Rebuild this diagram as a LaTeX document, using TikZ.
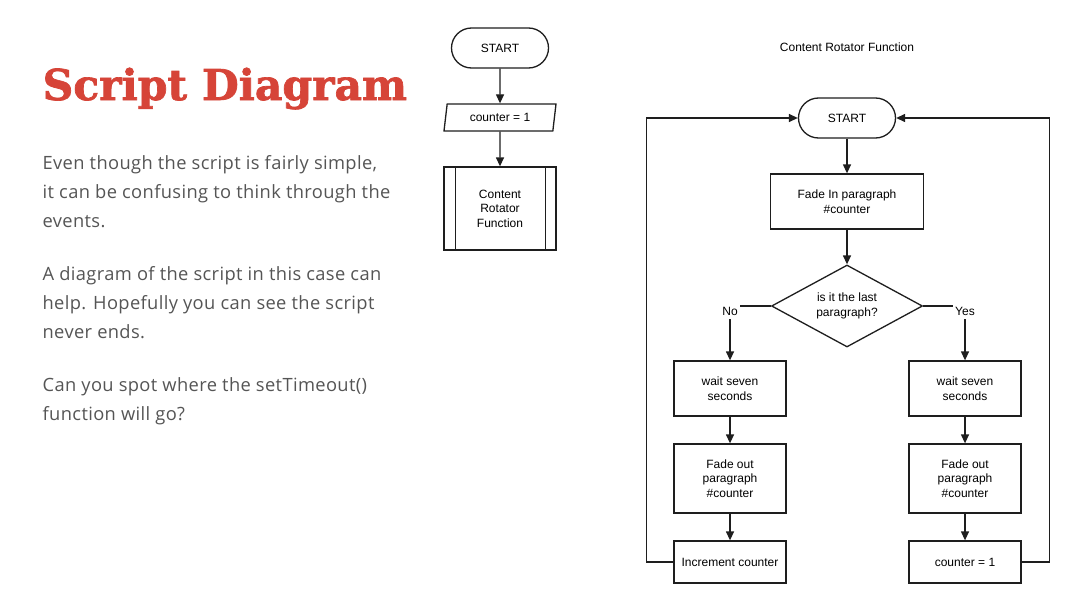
\documentclass[tikz,border=0pt]{standalone}
\usepackage{fontspec}
\setmainfont{Liberation Sans}
\newfontfamily\titlefont{DejaVu Serif}[BoldFeatures={FakeBold=1.6}]
\newfontfamily\bodyfont{Open Sans}[LetterSpace=2]
\usepackage{tikz}
\usetikzlibrary{arrows.meta,shapes.geometric,positioning}
\definecolor{titlered}{RGB}{214,68,56}
\definecolor{bodygray}{RGB}{85,85,85}
\definecolor{flowink}{RGB}{30,30,30}

\begin{document}
\begin{tikzpicture}[x=1pt,y=-1pt,>={Triangle[length=9pt,width=8pt]},
                    line width=1.3pt,draw=flowink,
                    font=\fontsize{12}{14.5}\selectfont]
  \tikzstyle{term}=[draw,rounded corners=20pt,minimum width=97pt,minimum height=40pt]
  \tikzstyle{io}=[draw,trapezium,trapezium left angle=73,trapezium right angle=107,
                  trapezium stretches body,minimum width=112pt,minimum height=27pt,inner sep=1pt]
  \tikzstyle{proc}=[draw,rectangle,align=center,minimum width=112pt,inner sep=2pt]
  \tikzstyle{decide}=[draw,diamond,aspect=1.84,minimum width=151pt,minimum height=82pt,
                      inner sep=0pt,align=center]
  \tikzstyle{branch}=[fill=white,inner xsep=2pt,inner ysep=4pt,yshift=-5pt]
  \tikzstyle{para}=[anchor=base west,align=left,text=bodygray,inner sep=0pt,
                    font=\bodyfont\fontsize{18.3}{29}\selectfont]

  \useasboundingbox[fill=white] (0,0) rectangle (1075,610);

  % left column: text (base = baseline of last line)
  \node[anchor=base west,inner sep=0pt,text=titlered,font=\titlefont\bfseries\fontsize{42.5}{50}\selectfont]
    (title) at (42,100) {Script Diagram};
  \node[para] (p1) at (42,227) {Even though the script is fairly simple,\\it can be confusing to think through the\\events.};
  \node[para] (p2) at (42,338) {A diagram of the script in this case can\\help. Hopefully you can see the script\\never ends.};
  \node[para] (p3) at (42,420) {Can you spot where the setTimeout()\\function will go?};

  % main script
  \node[term] (s1) at (500,48) {START};
  \node[io] (cnt) [below of=s1,node distance=69.5pt] {counter = 1};
  \node[proc,minimum height=83pt] (crf) [below of=cnt,node distance=91pt] {Content\\Rotator\\Function};
  \draw ([xshift=12pt]crf.north west) -- ([xshift=12pt]crf.south west);
  \draw ([xshift=-11pt]crf.north east) -- ([xshift=-11pt]crf.south east);

  \draw[->] (s1) -- (cnt);
  \draw[->] (cnt) -- (crf);

  % content rotator function
  \node (head) at (847,47) {Content Rotator Function};
  \node[term] (s2) at (847,118) {START};
  \node[proc,minimum width=153pt,minimum height=55pt] (fin) [below of=s2,node distance=83.5pt]
    {Fade In paragraph\\\#counter};
  \node[decide] (last) [below of=fin,node distance=104.5pt] {is it the last\\paragraph?};

  \node[proc,minimum height=55pt] (wn) at (730,388.5) {wait seven\\seconds};
  \node[proc,minimum height=69pt] (fn) [below of=wn,node distance=90pt] {Fade out\\paragraph\\\#counter};
  \node[proc,minimum height=42pt] (inc) [below of=fn,node distance=83.5pt] {Increment counter};

  \node[proc,minimum height=55pt] (wy) at (965,388.5) {wait seven\\seconds};
  \node[proc,minimum height=69pt] (fy) [below of=wy,node distance=90pt] {Fade out\\paragraph\\\#counter};
  \node[proc,minimum height=42pt] (reset) [below of=fy,node distance=83.5pt] {counter = 1};

  \draw[->] (s2) -- (fin);
  \draw[->] (fin) -- (last);
  \draw[->] (last.west) -| node[branch,pos=0.5] {No} (wn.north);
  \draw[->] (last.east) -| node[branch,pos=0.5] {Yes} (wy.north);
  \draw[->] (wn) -- (fn);
  \draw[->] (fn) -- (inc);
  \draw[->] (wy) -- (fy);
  \draw[->] (fy) -- (reset);

  % loops back to start
  \draw[->] (inc.west) -- ++(-27,0) |- (s2.west);
  \draw[->] (reset.east) -- ++(28,0) |- (s2.east);
\end{tikzpicture}
\end{document}
